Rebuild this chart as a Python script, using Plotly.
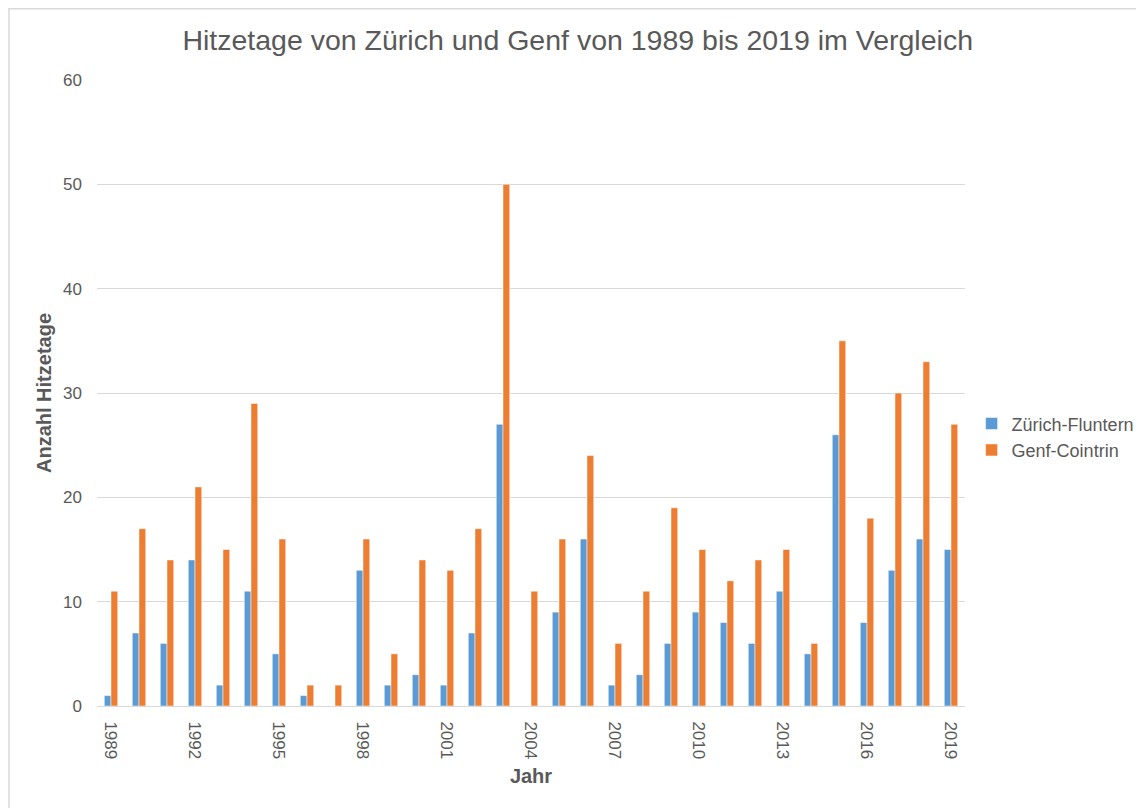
import plotly.graph_objects as go

years = [str(y) for y in range(1989, 2020)]
zuerich = [1, 7, 6, 14, 2, 11, 5, 1, 0, 13, 2, 3, 2, 7, 27, 0, 9, 16, 2, 3, 6, 9, 8, 6, 11, 5, 26, 8, 13, 16, 15]
genf = [11, 17, 14, 21, 15, 29, 16, 2, 2, 16, 5, 14, 13, 17, 50, 11, 16, 24, 6, 11, 19, 15, 12, 14, 15, 6, 35, 18, 30, 33, 27]
tick_years = [str(y) for y in range(1989, 2020, 3)]
y_ticks = [0, 10, 20, 30, 40, 50, 60]

fig = go.Figure()
fig.add_trace(go.Bar(x=years, y=zuerich, name="Zürich-Fluntern",
                     marker=dict(color="#5B9BD5", line=dict(color="#ffffff", width=0.5))))
fig.add_trace(go.Bar(x=years, y=genf, name="Genf-Cointrin",
                     marker=dict(color="#ED7D31", line=dict(color="#ffffff", width=0.5))))

L, T, R, B = 89, 72, 185, 110
W, H = 1144, 808
pw, ph = W - L - R, H - T - B
px0 = -L / pw
py1 = 1 + T / ph

fig.update_layout(
    width=W, height=H,
    paper_bgcolor="white", plot_bgcolor="white",
    font=dict(family="Liberation Sans, Arial, sans-serif", color="#595959", size=17),
    title=dict(text="Hitzetage von Zürich und Genf von 1989 bis 2019 im Vergleich",
               x=0.498, xanchor="center", y=0.9604, yanchor="middle",
               font=dict(size=28.5, color="#595959")),
    margin=dict(l=L, r=R, t=T, b=B),
    barmode="group", bargap=0.52, bargroupgap=0,
    legend=dict(x=1.0076, y=0.43, xanchor="left", yanchor="middle",
                font=dict(size=18, color="#595959")),
    xaxis=dict(type="category", tickmode="array", tickvals=tick_years, ticktext=tick_years,
               tickangle=90, showgrid=False, showline=True, linecolor="#D9D9D9", linewidth=1,
               ticks="", ticklabelstandoff=11, tickfont=dict(size=17, color="#595959"),
               title=dict(text="<b>Jahr</b>", font=dict(size=20, color="#595959"), standoff=10)),
    yaxis=dict(range=[0, 60], tickvals=y_ticks, showgrid=True, gridcolor="#D9D9D9", gridwidth=1,
               zeroline=False, showline=False, ticks="", ticklabelstandoff=14,
               tickfont=dict(size=17, color="#595959"),
               title=dict(text="<b>Anzahl Hitzetage</b>", font=dict(size=20, color="#595959"), standoff=6)),
    shapes=[
        dict(type="line", xref="paper", yref="paper", x0=px0 + 0.5 / pw, x1=1 + (W - L) / pw,
             y0=py1 - 0.8 / ph, y1=py1 - 0.8 / ph, line=dict(color="#D9D9D9", width=1.5)),
        dict(type="line", xref="paper", yref="paper", x0=px0 + 0.8 / pw, x1=px0 + 0.8 / pw,
             y0=-2, y1=py1, line=dict(color="#D9D9D9", width=1.5)),
    ],
)

fig.write_html("out.html")
